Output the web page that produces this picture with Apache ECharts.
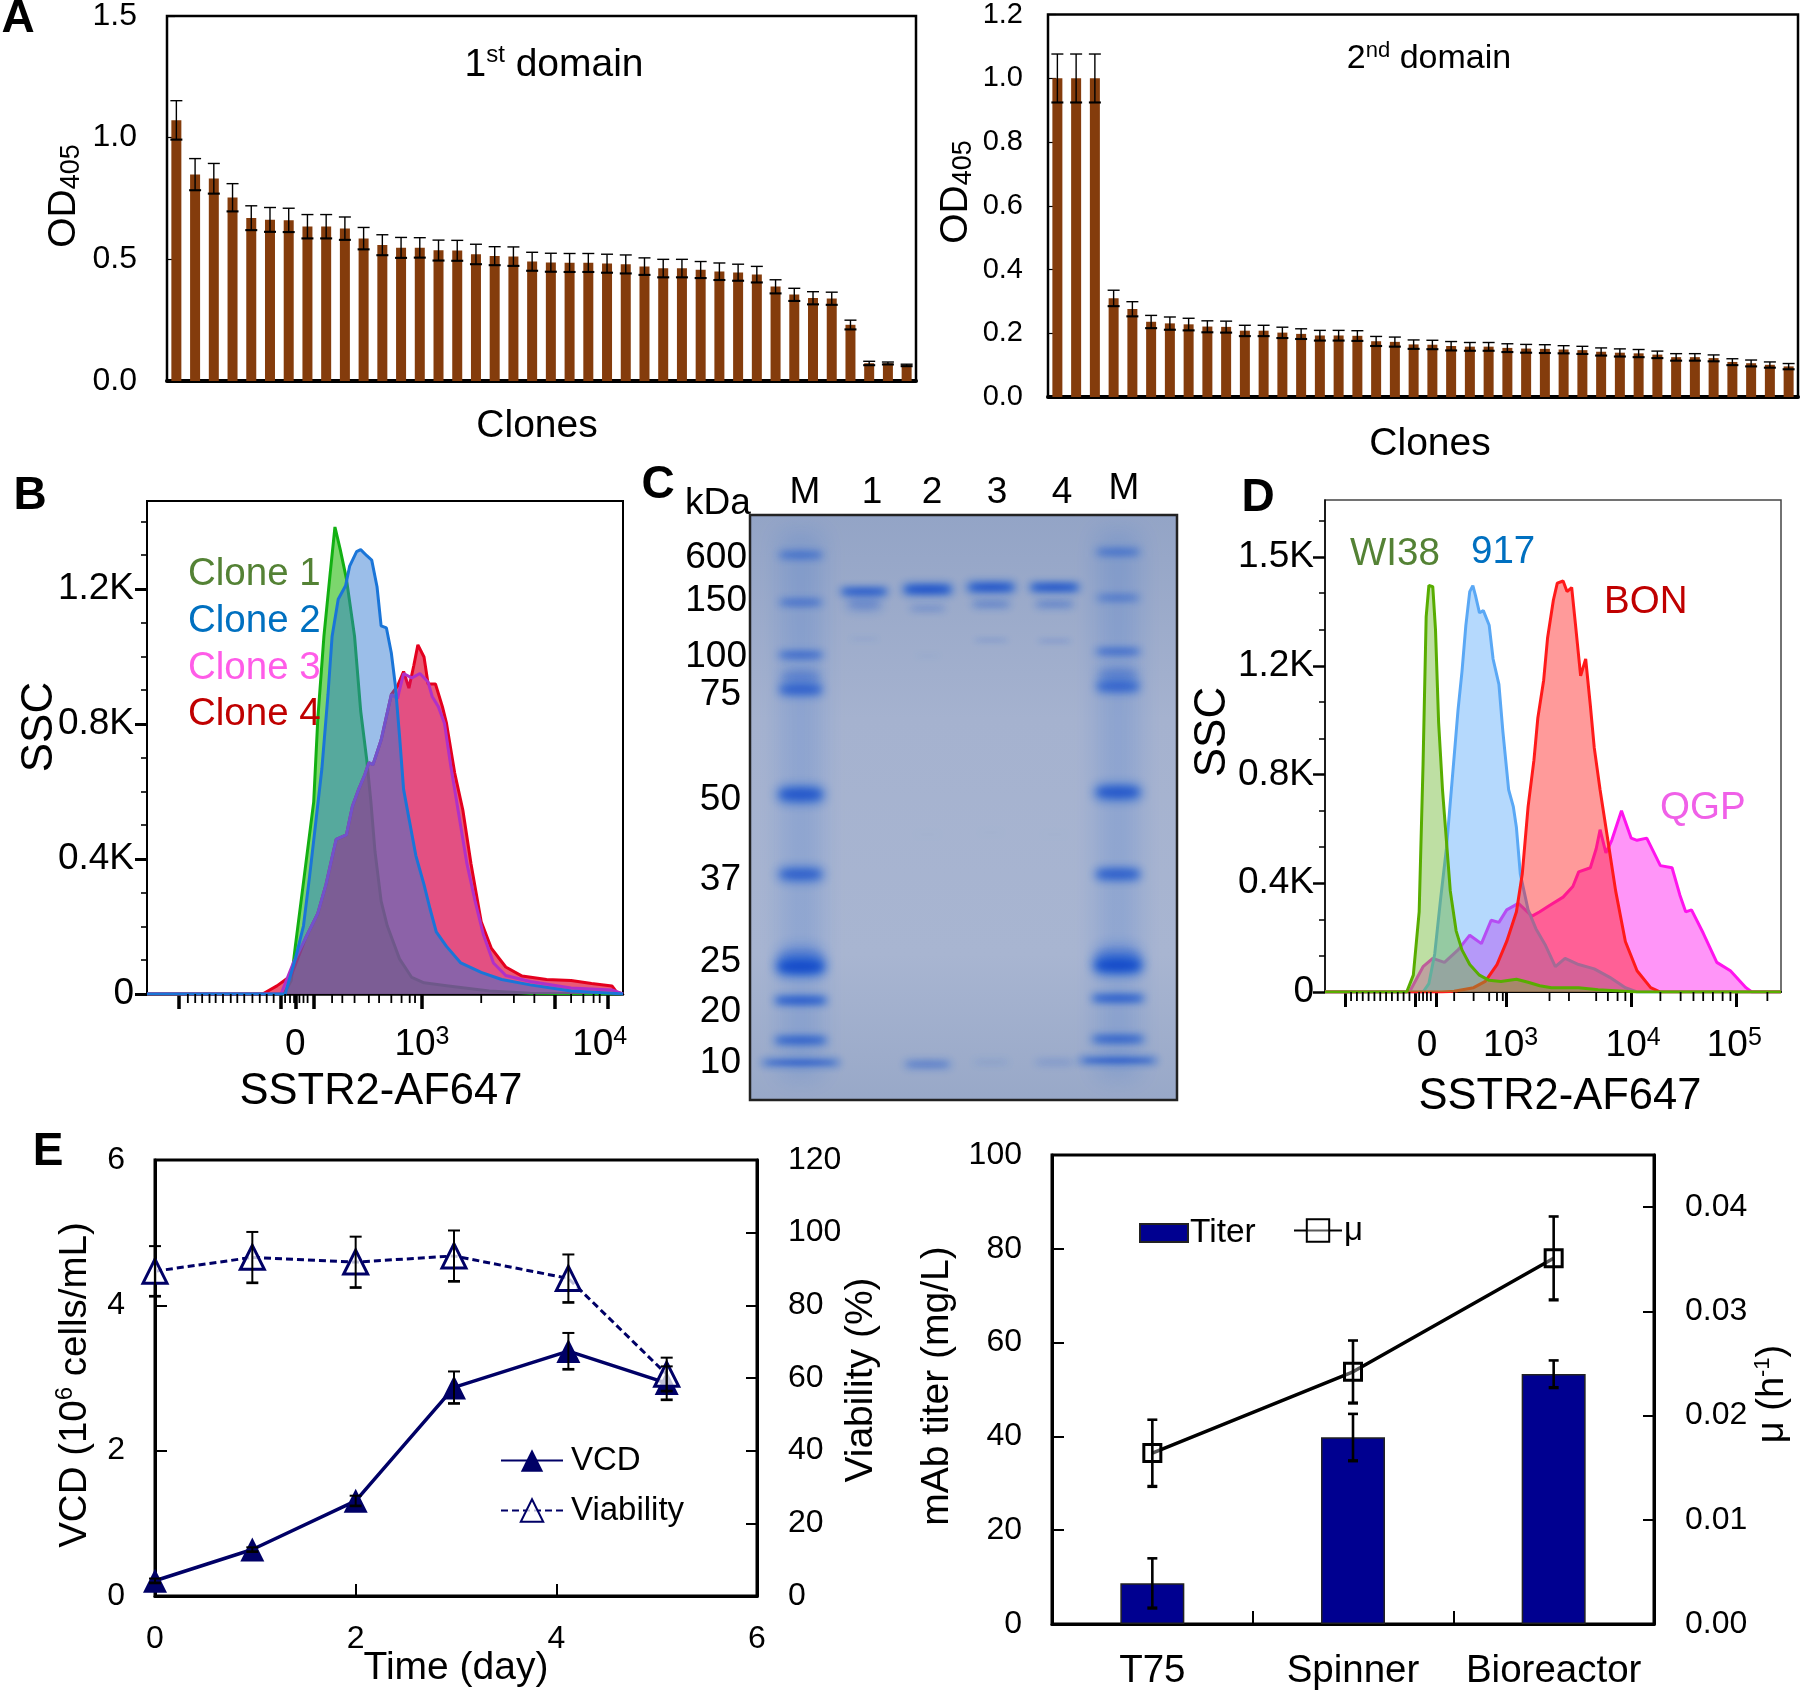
<!DOCTYPE html>
<html><head><meta charset="utf-8">
<script src="https://cdn.jsdelivr.net/npm/echarts@6/dist/echarts.min.js"></script>
<style>html,body{margin:0;padding:0;background:#fff}#c{width:1800px;height:1691px}</style>
</head><body><div id="c"></div>
<script>
// ---------- Panel A ----------
const clones = Array.from({length:40},(_,i)=>'C'+(i+1));
const odFirst = [1.072,.849,.832,.754,.670,.663,.661,.635,.635,.627,.586,.559,.548,.548,.537,.536,.521,.514,.512,.491,.487,.486,.486,.483,.480,.471,.463,.463,.457,.450,.446,.438,.388,.355,.341,.339,.231,.073,.073,.065];
const odFirstErr = [.080,.065,.062,.057,.050,.050,.049,.049,.049,.047,.045,.042,.042,.041,.042,.042,.041,.038,.039,.038,.038,.038,.038,.038,.038,.035,.037,.037,.034,.035,.034,.033,.028,.026,.026,.026,.019,.008,.005,.004];
const odSecond = [1.0,1.0,1.0,.310,.276,.236,.231,.228,.221,.220,.208,.208,.202,.198,.193,.193,.192,.175,.173,.165,.164,.160,.158,.158,.154,.152,.151,.149,.147,.142,.139,.137,.133,.125,.125,.122,.110,.106,.101,.096];
const odSecondErr = [.076,.076,.076,.025,.023,.020,.020,.019,.018,.018,.017,.017,.017,.016,.016,.016,.016,.015,.015,.014,.014,.014,.013,.013,.013,.013,.013,.012,.012,.012,.012,.012,.011,.011,.011,.010,.010,.010,.009,.009];
// ---------- Panel B (x = display channel, y = SSC) ----------
const clone1 = [[0,0],[335,0],[353,40],[363,141],[385,350],[408,569],[418,814],[433,1059],[448,1242],[460,1383],[473,1316],[488,1230],[508,1059],[523,838],[538,692],[548,569],[558,422],[573,275],[588,202],[618,104],[648,49],[678,33],[738,24],[838,9],[938,2],[1165,0]];
const clone2 = [[0,0],[338,0],[363,104],[383,202],[398,349],[413,508],[428,667],[443,887],[453,1059],[468,1169],[486,1209],[496,1267],[513,1310],[523,1316],[538,1298],[550,1285],[563,1206],[573,1090],[586,1084],[598,1010],[608,912],[618,765],[628,606],[643,508],[658,410],[678,324],[693,251],[708,184],[733,141],[768,92],[818,64],[868,43],[938,27],[1038,9],[1138,2],[1165,0]];
const clone3 = [[0,0],[328,0],[358,92],[388,165],[418,239],[438,324],[463,458],[488,471],[503,557],[518,606],[533,649],[543,685],[553,679],[573,752],[598,887],[613,875],[628,949],[648,936],[668,949],[688,924],[698,881],[713,851],[728,802],[743,679],[763,532],[783,386],[803,275],[823,177],[848,92],[878,55],[938,37],[1038,18],[1138,12],[1165,0]];
const clone4 = [[0,0],[283,0],[318,24],[353,55],[388,165],[418,239],[438,324],[463,458],[488,471],[503,557],[518,606],[533,649],[543,685],[553,679],[573,752],[598,887],[613,912],[628,955],[641,906],[653,973],[663,1034],[678,998],[688,918],[706,918],[723,851],[733,802],[753,655],[773,545],[793,386],[818,214],[843,135],[878,80],[918,53],[978,43],[1038,40],[1088,31],[1138,24],[1150,5],[1165,0]];
const bXMajor = [78,328,363,408,673,998,1128];
const bXMinor = [100,118,135,153,168,186,205,221,238,258,276,293,310,338,350,360,373,383,393,453,478,508,543,568,598,623,643,656,818,898,948,1038,1068,1093,1108];
const bXLabels = [363,673,1108];
const bYMajor = [0,400,800,1200];
const bYMinor = [100,200,300,500,600,700,900,1000,1100,1300,1400];
// ---------- Panel C (lane, migration, half width in lanes, half thickness, strength) ----------
const gelStrips = [[0,690,.33,650,.17],[5,690,.33,650,.17]];
const gelBands = [
 [0,95,.36,12,.55],[0,208,.35,10,.6],[0,333,.36,11,.7],[0,385,.34,26,.3],[0,415,.36,20,.7],[0,665,.38,26,.85],[0,855,.37,22,.75],[0,1055,.38,40,.4],[0,1075,.40,26,1],[0,1155,.42,12,.95],[0,1250,.42,12,.85],[0,1303,.62,8,1],
 [5,88,.36,11,.55],[5,197,.35,9,.55],[5,325,.36,10,.7],[5,380,.34,26,.3],[5,408,.36,20,.65],[5,660,.38,24,.85],[5,855,.37,20,.75],[5,1052,.38,38,.4],[5,1072,.40,26,1],[5,1150,.42,11,.95],[5,1247,.42,11,.85],[5,1298,.62,8,1],
 [1,212,.30,22,.3],[1,182,.38,11,1],[2,222,.30,11,.25],[2,177,.40,16,1],[3,212,.32,13,.35],[3,172,.39,15,1],[4,212,.32,13,.35],[4,172,.40,13,1],
 [1,295,.24,5,.1],[3,298,.28,5,.22],[4,300,.28,6,.2],[2,335,.2,4,.08],[2,760,.2,3,.05],[3,755,.2,3,.05],[4,760,.2,3,.05],
 [2,1307,.38,13,.42],[3,1302,.3,10,.1],[4,1302,.33,11,.17]];
// ---------- Panel D ----------
const wi38 = [[0,0],[210,0],[227,62],[242,295],[252,837],[260,1380],[267,1496],[277,1491],[284,1333],[292,992],[302,744],[312,558],[322,372],[337,225],[352,155],[372,101],[397,62],[422,43],[452,39],[492,47],[522,36],[552,23],[582,16],[652,16],[702,8],[802,0],[1172,0]];
const c917 = [[0,0],[252,0],[267,31],[282,140],[297,341],[312,527],[322,698],[332,868],[342,1039],[352,1178],[362,1349],[372,1473],[380,1495],[387,1457],[397,1395],[407,1403],[422,1349],[432,1225],[447,1132],[457,961],[472,744],[484,682],[492,605],[502,434],[522,302],[542,233],[567,171],[592,93],[617,124],[652,101],[692,85],[732,54],[772,16],[802,0],[1172,0]];
const bon = [[0,0],[300,0],[332,3],[382,16],[412,39],[442,101],[467,186],[492,295],[507,434],[522,682],[537,853],[547,1008],[562,1147],[572,1302],[587,1442],[597,1504],[612,1512],[622,1473],[634,1488],[644,1349],[657,1163],[670,1225],[682,1054],[692,899],[707,744],[727,558],[747,372],[772,186],[802,78],[837,16],[862,0],[1172,0]];
const qgp = [[0,0],[217,0],[252,93],[277,124],[307,109],[342,155],[372,209],[402,178],[427,264],[447,256],[467,302],[497,326],[532,279],[552,295],[577,318],[612,349],[637,388],[652,442],[682,457],[697,527],[707,597],[722,512],[737,558],[762,667],[787,566],[802,558],[827,566],[862,465],[892,457],[912,357],[927,295],[942,302],[972,217],[1007,109],[1042,78],[1082,16],[1097,0],[1172,0]];
const dXMajor = [52,232,287,467,787,1057];
const dXMinor = [67,82,97,112,127,142,157,172,187,202,217,242,252,262,272,332,382,422,442,457,577,627,697,727,752,772,862,914,947,972,997,1022,1042,1137];
const dXLabels = [262,477,792,1052];
const dYMajor = [0,400,800,1200,1600];
const dYMinor = [133,267,533,667,933,1067,1333,1467,1733];
const dYText = {0:'0',400:'0.4K',800:'0.8K',1200:'1.2K',1600:'1.5K'};
// ---------- Panel E ----------
const days = [0,.97,2,2.98,4.12,5.1];
const vcd = [.21,.64,1.31,2.87,3.37,2.93];
const vcdErr = [.03,.03,.07,.22,.25,.23];
const viability = [89.4,93.2,91.9,93.6,87.4,61];
const viabilityErr = [6.9,7,7,7,6.6,4.6];
const vessels = ['T75','Spinner','Bioreactor'];
const titer = [8.7,39.8,53.3];
const titerErr = [5.3,5,2.9];
const mu = [.0164,.0242,.0351];
const muErr = [.0032,.003,.004];

const FONT = '"Liberation Sans", Arial, sans-serif';
function errSeries(xs, vals, errs, xi, yi, cap, lw, z){
  return {type:'custom', xAxisIndex:xi, yAxisIndex:yi, z:z||5, silent:true, clip:false,
    data: vals.map((v,i)=>[xs[i], v-errs[i], v+errs[i]]),
    encode:{x:0,y:[1,2]},
    renderItem(p,api){
      const a=api.coord([api.value(0),api.value(1)]), b=api.coord([api.value(0),api.value(2)]);
      const st={stroke:'#000',lineWidth:lw,fill:null};
      return {type:'group',children:[
        {type:'line',shape:{x1:a[0],y1:a[1],x2:b[0],y2:b[1]},style:st},
        {type:'line',shape:{x1:a[0]-cap,y1:a[1],x2:a[0]+cap,y2:a[1]},style:{stroke:'#000',lineWidth:lw+.7}},
        {type:'line',shape:{x1:b[0]-cap,y1:b[1],x2:b[0]+cap,y2:b[1]},style:st}]};
    }};
}
function tickSeries(vals,xi,yi){
  return {type:'custom',xAxisIndex:xi,yAxisIndex:yi,silent:true,clip:false,z:9,data:vals.map(v=>[v,0]),encode:{x:0,y:1},
    renderItem(p,api){const c=api.coord([api.value(0),0]);
      return {type:'line',shape:{x1:c[0],y1:c[1],x2:c[0],y2:c[1]+9},style:{stroke:'#000',lineWidth:1.8}};}};
}
function flow(name,data,xi,yi,line,fill,z){
  return {name,type:'line',xAxisIndex:xi,yAxisIndex:yi,data,showSymbol:false,symbol:'none',z,
    lineStyle:{color:line,width:3},areaStyle:{color:fill,opacity:1},silent:true};
}
const grids = [
 {left:167,top:14,width:749,height:367,show:true,borderColor:'#000',borderWidth:2.5,backgroundColor:'#fff'},
 {left:1048,top:13,width:750,height:384,show:true,borderColor:'#000',borderWidth:2.5,backgroundColor:'#fff'},
 {left:147,top:501,width:476,height:493,show:true,borderColor:'#000',borderWidth:2,backgroundColor:'#fff'},
 {left:750,top:515,width:427,height:585,show:true,borderColor:'#222',borderWidth:2.5,
  backgroundColor:new echarts.graphic.LinearGradient(0,0,0,1,[{offset:0,color:'#93a4c6'},{offset:.35,color:'#a5b2cf'},{offset:.75,color:'#a8b5d1'},{offset:1,color:'#98a8c8'}])},
 {left:1325,top:500,width:456,height:492,show:true,borderColor:'#444',borderWidth:1.5,backgroundColor:'#fff'},
 {left:155,top:1160,width:602,height:436,show:true,borderColor:'#000',borderWidth:3,backgroundColor:'#fff'},
 {left:1052,top:1155,width:602,height:469,show:true,borderColor:'#000',borderWidth:3,backgroundColor:'#fff'}
];
const tickTxt = s=>({fontFamily:FONT,fontSize:s,color:'#000'});
const yTxt = tickTxt;
const line = w=>({show:true,lineStyle:{color:'#000',width:w}});
const powRich = {b:{fontFamily:FONT,fontSize:37,color:'#000',lineHeight:40},s:{fontFamily:FONT,fontSize:25,color:'#000',lineHeight:26,verticalAlign:'top'}};
const powLabel = (vals,labels,margin)=>({show:true,customValues:vals,margin,rich:powRich,
  formatter:v=>{const t=labels[vals.indexOf(v)];return t==='0'?'{b|0}':'{b|10}{s|'+t+'}';}});
const bXText=['0','3','4'], dXText=['0','3','4','5'];
const blank = {axisLine:{show:false},axisLabel:{show:false},splitLine:{show:false}};

const xAxis = [
 {gridIndex:0,type:'category',data:clones,axisLine:line(4),axisTick:{show:false},axisLabel:{show:false}},
 {gridIndex:1,type:'category',data:clones,axisLine:line(4),axisTick:{show:false},axisLabel:{show:false}},
 {gridIndex:2,type:'value',min:0,max:1165,splitLine:{show:false},axisLine:line(2.5),
  axisTick:{show:true,customValues:bXMajor,length:15,lineStyle:{color:'#000',width:3.5}},axisLabel:powLabel(bXLabels,bXText,31)},
 {gridIndex:3,type:'value',min:-.8,max:5.93,show:false},
 {gridIndex:4,type:'value',min:0,max:1172,splitLine:{show:false},axisLine:line(2),
  axisTick:{show:true,customValues:dXMajor,length:15,lineStyle:{color:'#000',width:3}},axisLabel:powLabel(dXLabels,dXText,34)},
 {gridIndex:5,type:'value',min:0,max:6,interval:2,splitLine:{show:false},axisLine:line(3),
  axisTick:{show:true,inside:true,length:12,lineStyle:{color:'#000',width:2}},axisLabel:{...tickTxt(32),margin:27}},
 {gridIndex:6,type:'category',data:vessels,axisLine:line(3),axisTick:{show:true,inside:true,interval:0,alignWithLabel:false,length:13,lineStyle:{color:'#000',width:2}},axisLabel:{...tickTxt(38.5),margin:28,interval:0}}
];
const yAxis = [
 {gridIndex:0,type:'value',min:0,max:1.5,interval:.5,splitLine:{show:false},axisLine:line(1.5),
  axisTick:{show:true,inside:true,length:8,lineStyle:{color:'#000',width:1.2}},axisLabel:{...yTxt(32),margin:30,formatter:v=>v.toFixed(1)}},
 {gridIndex:1,type:'value',min:0,max:1.2,interval:.2,splitLine:{show:false},axisLine:line(1.5),
  axisTick:{show:true,inside:true,length:8,lineStyle:{color:'#000',width:1.2}},axisLabel:{...yTxt(29),margin:25,formatter:v=>v.toFixed(1)}},
 {gridIndex:2,type:'value',position:'left',min:0,max:1460,splitLine:{show:false},axisLine:line(2),
  axisTick:{show:true,customValues:bYMajor,length:12,lineStyle:{color:'#000',width:3}},
  axisLabel:{...yTxt(37),margin:13,customValues:bYMajor,formatter:v=>v===0?'0':(v/1000).toFixed(1)+'K'}},
 {gridIndex:2,type:'value',position:'left',min:0,max:1460,...blank,axisTick:{show:true,customValues:bYMinor,length:6,lineStyle:{color:'#000',width:1.6}}},
 {gridIndex:3,type:'value',inverse:true,min:0,max:1392,show:false},
 {gridIndex:4,type:'value',position:'left',min:0,max:1810,splitLine:{show:false},axisLine:line(1.5),
  axisTick:{show:true,customValues:dYMajor,length:12,lineStyle:{color:'#000',width:2.5}},
  axisLabel:{...yTxt(37),margin:11,customValues:dYMajor,formatter:v=>dYText[v]}},
 {gridIndex:4,type:'value',position:'left',min:0,max:1810,...blank,axisTick:{show:true,customValues:dYMinor,length:6,lineStyle:{color:'#000',width:1.5}}},
 {gridIndex:5,type:'value',position:'left',min:0,max:6,interval:2,splitLine:{show:false},axisLine:line(3),
  axisTick:{show:true,inside:true,length:12,lineStyle:{color:'#000',width:2}},axisLabel:{...yTxt(32),margin:30}},
 {gridIndex:5,type:'value',position:'right',min:0,max:120,interval:20,splitLine:{show:false},axisLine:line(3),
  axisTick:{show:true,inside:true,length:11,lineStyle:{color:'#000',width:2}},axisLabel:{...yTxt(32),margin:31}},
 {gridIndex:6,type:'value',position:'left',min:0,max:100,interval:20,splitLine:{show:false},axisLine:line(3),
  axisTick:{show:true,inside:true,length:12,lineStyle:{color:'#000',width:2}},axisLabel:{...yTxt(32),margin:30}},
 {gridIndex:6,type:'value',position:'right',min:0,max:.045,splitLine:{show:false},axisLine:line(3),
  axisTick:{show:true,inside:true,length:11,customValues:[0,.01,.02,.03,.04],lineStyle:{color:'#000',width:2}},
  axisLabel:{...yTxt(32),margin:31,customValues:[0,.01,.02,.03,.04],formatter:v=>v.toFixed(2)}}
];
const BROWN='#843c0c', NAVY='#000066';
const gelBlue = s=>`rgba(18,88,210,${s})`;
const FAR=3000; // the shape sits off canvas and only its blurred shadow lands on the gel
const soft=(blur,color)=>({fill:'#000',shadowBlur:blur,shadowColor:color,shadowOffsetX:FAR});
const series = [
 {type:'bar',xAxisIndex:0,yAxisIndex:0,data:odFirst,barWidth:10,itemStyle:{color:BROWN},silent:true},
 errSeries(clones.map((_,i)=>i),odFirst,odFirstErr,0,0,6,1.4),
 {type:'bar',xAxisIndex:1,yAxisIndex:1,data:odSecond,barWidth:10,itemStyle:{color:BROWN},silent:true},
 errSeries(clones.map((_,i)=>i),odSecond,odSecondErr,1,1,6,1.4),
 flow('Clone 1',clone1,2,2,'#12b012','rgba(80,200,60,.75)',2),
 flow('Clone 4',clone4,2,2,'#e4001e','rgba(225,20,60,.7)',3),
 flow('Clone 3',clone3,2,2,'#b030c8','rgba(200,40,180,.2)',4),
 flow('Clone 2',clone2,2,2,'#1a75d8','rgba(45,120,210,.48)',5),
 tickSeries(bXMinor,2,2),
 {type:'custom',xAxisIndex:3,yAxisIndex:4,data:gelStrips,encode:{x:0,y:1},silent:true,z:2,
  renderItem(p,api){const c=api.coord([api.value(0),api.value(1)]);const w=api.size([api.value(2),0])[0],h=api.size([0,api.value(3)])[1];
   return {type:'rect',shape:{x:c[0]-w-FAR,y:c[1]-h,width:2*w,height:2*h},style:soft(24,gelBlue(api.value(4)))};}},
 {type:'custom',xAxisIndex:3,yAxisIndex:4,data:gelBands,encode:{x:0,y:1},silent:true,z:3,
  renderItem(p,api){const c=api.coord([api.value(0),api.value(1)]);const w=api.size([api.value(2),0])[0],h=api.size([0,api.value(3)])[1];const s=api.value(4);
   return {type:'group',children:[
     {type:'rect',shape:{x:c[0]-w-FAR,y:c[1]-h*.8,width:2*w,height:1.6*h,r:h*.8},style:soft(7+h*.35,gelBlue(s*.8))},
     {type:'ellipse',shape:{cx:c[0]-FAR,cy:c[1],rx:w*.85,ry:h*.5},style:soft(5+h*.25,`rgba(8,55,195,${s*.55})`)}]};}},
 flow('QGP',qgp,4,5,'#ff14ee','rgba(255,20,240,.45)',2),
 flow('917',c917,4,5,'#5aa8f5','rgba(70,160,250,.4)',3),
 flow('BON',bon,4,5,'#ff1a1a','rgba(255,30,30,.45)',4),
 flow('WI38',wi38,4,5,'#58ad00','rgba(110,185,50,.45)',5),
 tickSeries(dXMinor,4,5),
 {name:'VCD',type:'line',xAxisIndex:5,yAxisIndex:7,data:days.map((d,i)=>[d,vcd[i]]),symbol:'triangle',symbolSize:24,z:6,clip:false,
  lineStyle:{color:NAVY,width:3.5},itemStyle:{color:NAVY},silent:true},
 {name:'Viability',type:'line',xAxisIndex:5,yAxisIndex:8,data:days.map((d,i)=>[d,viability[i]]),symbol:'triangle',symbolSize:24,z:6,clip:false,
  lineStyle:{color:NAVY,width:3,type:[7,4]},itemStyle:{color:'rgba(255,255,255,.75)',borderColor:NAVY,borderWidth:3},silent:true},
 errSeries(days,vcd,vcdErr,5,7,6,2,7),
 errSeries(days,viability,viabilityErr,5,8,6,2,7),
 {name:'Titer',type:'bar',xAxisIndex:6,yAxisIndex:9,data:titer,barWidth:64,itemStyle:{color:'#000090',borderColor:'#222',borderWidth:1.5},silent:true},
 {name:'μ',type:'line',xAxisIndex:6,yAxisIndex:10,data:mu,symbol:'rect',symbolSize:17,z:6,
  lineStyle:{color:'#000',width:3.5},itemStyle:{color:'rgba(255,255,255,.35)',borderColor:'#000',borderWidth:3},silent:true},
 errSeries([0,1,2],titer,titerErr,6,9,5,2.6,7),
 errSeries([0,1,2],mu,muErr,6,10,5,2.6,7)
];
function T(text,x,y,o){o=o||{};
  return {type:'text',x,y:o.rot?y:y+2,rotation:o.rot||0,z:50,silent:true,style:{text,rich:o.rich,fontFamily:FONT,fontSize:o.size||36,fontWeight:o.weight||'normal',
    fill:o.color||'#000',align:o.align||'center',verticalAlign:'middle'}};
}
const ROT=Math.PI/2;
const richFor=(big,small,subscript)=>({a:{fontFamily:FONT,fontSize:big,color:'#000',lineHeight:big+4},
  s:{fontFamily:FONT,fontSize:small,color:'#000',lineHeight:small+2,verticalAlign:subscript?'bottom':'top'}});
const graphic=[
 T('A',18,17,{size:46,weight:'bold'}),T('B',30,494,{size:46,weight:'bold'}),T('C',658,483,{size:46,weight:'bold'}),T('D',1258,496,{size:46,weight:'bold'}),T('E',48,1150,{size:46,weight:'bold'}),
 T('{a|1}{s|st}{a| domain}',554,63,{rich:richFor(39,24)}),
 T('{a|2}{s|nd}{a| domain}',1429,57,{rich:richFor(34,22)}),
 T('{a|OD}{s|405}',64,196,{rot:ROT,rich:richFor(39,27,true)}),
 T('{a|OD}{s|405}',956,192,{rot:ROT,rich:richFor(39,27,true)}),
 T('Clones',537,424,{size:39}),T('Clones',1430,442,{size:39}),
 T('SSC',40,727,{size:44,rot:ROT}),T('SSTR2-AF647',381,1090,{size:43.5}),
 T('Clone 1',188,572,{size:38.5,align:'left',color:'#548235'}),T('Clone 2',188,619,{size:38.5,align:'left',color:'#0070c0'}),
 T('Clone 3',188,666,{size:38.5,align:'left',color:'#ff5ce8'}),T('Clone 4',188,712,{size:38.5,align:'left',color:'#c00000'}),
 T('kDa',685,502,{size:37,align:'left'}),T('M',805,491,{size:37}),T('1',872,491,{size:37}),T('2',932,491,{size:37}),T('3',997,491,{size:37}),T('4',1062,491,{size:37}),T('M',1124,487,{size:37}),
 T('600',747,556,{size:37,align:'right'}),T('150',747,599,{size:37,align:'right'}),T('100',747,655,{size:37,align:'right'}),T('75',741,693,{size:37,align:'right'}),
 T('50',741,798,{size:37,align:'right'}),T('37',741,878,{size:37,align:'right'}),T('25',741,960,{size:37,align:'right'}),T('20',741,1010,{size:37,align:'right'}),T('10',741,1061,{size:37,align:'right'}),
 T('SSC',1213,732,{size:44,rot:ROT}),T('SSTR2-AF647',1560,1095,{size:43.5}),
 T('WI38',1350,552,{size:38.5,align:'left',color:'#548235'}),T('917',1471,550,{size:38.5,align:'left',color:'#0070c0'}),T('BON',1604,600,{size:38.5,align:'left',color:'#c00000'}),T('QGP',1660,806,{size:38.5,align:'left',color:'#f060e8'}),
 T('{a|VCD (10}{s|6}{a| cells/mL)}',75,1385,{rot:ROT,rich:richFor(38.5,24)}),
 T('Time (day)',456,1666,{size:39}),
 T('Viability (%)',861,1380,{size:39,rot:ROT}),
 T('mAb titer (mg/L)',937,1386,{size:39,rot:ROT}),
 T('{a|μ (h}{s|-1}{a|)}',1773,1394,{rot:ROT,rich:richFor(38,22)})
];
const legend=[
 {data:['VCD','Viability'],orient:'vertical',left:495,top:1439,itemWidth:62,itemHeight:28,itemGap:17,textStyle:{...tickTxt(33),padding:[0,0,0,3]},selectedMode:false},
 {data:[{name:'Titer',icon:'rect'}],left:1134,top:1211,itemWidth:48,itemHeight:18,textStyle:{...tickTxt(33.5),padding:[0,0,0,-3]},selectedMode:false},
 {data:['μ'],left:1288,top:1209,itemWidth:48,itemHeight:28,textStyle:{...tickTxt(33),padding:[0,0,0,-3]},selectedMode:false}
];
const chart=echarts.init(document.getElementById('c'),null,{renderer:'canvas'});
chart.setOption({animation:false,backgroundColor:'#fff',textStyle:{fontFamily:FONT},grid:grids,xAxis,yAxis,series,graphic:{elements:graphic},legend});
</script></body></html>
